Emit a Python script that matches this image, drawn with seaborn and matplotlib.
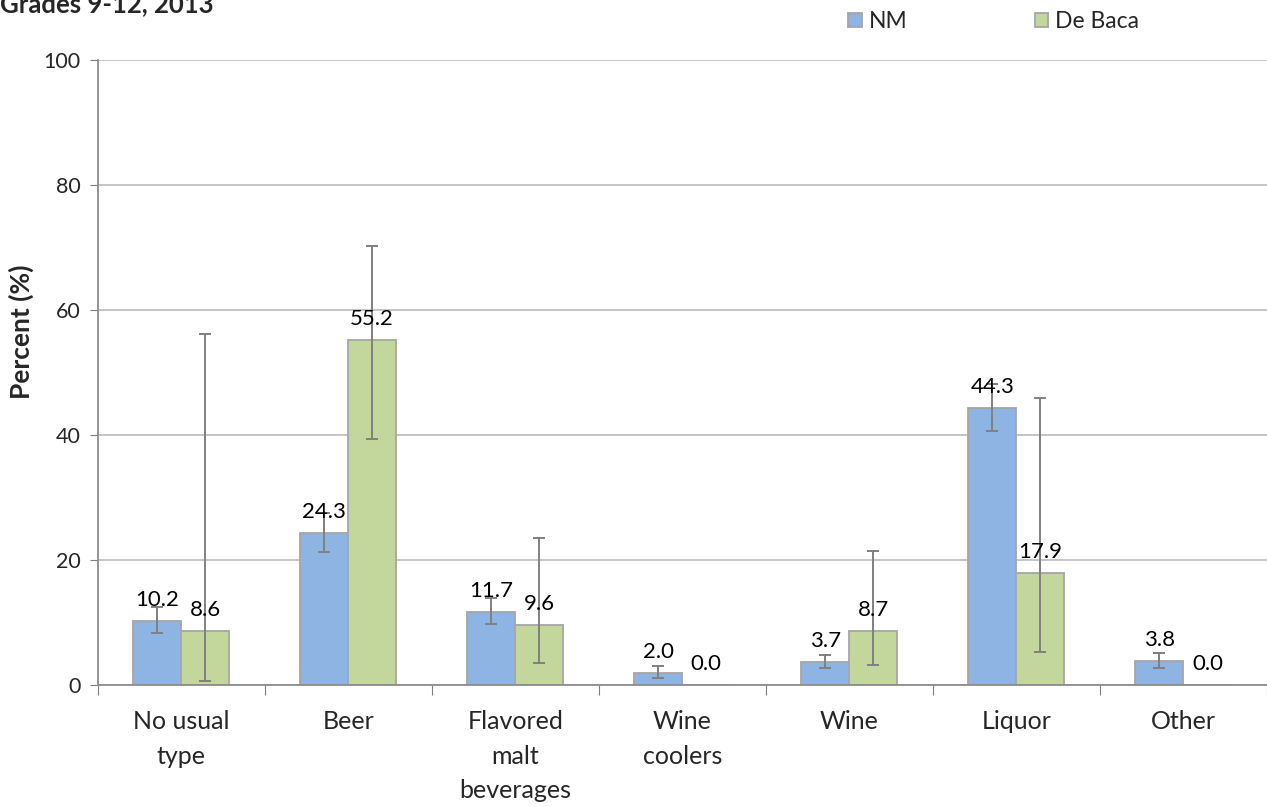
import numpy as np
import pandas as pd
import matplotlib
matplotlib.use('Agg')
import matplotlib.pyplot as plt
import seaborn as sns

# Data
categories = ['No usual\ntype', 'Beer', 'Flavored\nmalt\nbeverages', 'Wine\ncoolers',
              'Wine', 'Liquor', 'Other']
groups = ['NM', 'De Baca']
nm_values = [10.2, 24.3, 11.7, 2.0, 3.7, 44.3, 3.8]
deb_values = [8.6, 55.2, 9.6, 0.0, 8.7, 17.9, 0.0]
nm_lower = [8.4, 21.3, 9.7, 1.2, 2.8, 40.7, 2.7]
nm_upper = [12.5, 27.6, 14.0, 3.1, 4.8, 48.2, 5.2]
deb_lower = [0.7, 39.3, 3.5, 0.0, 3.2, 5.3, 0.0]
deb_upper = [56.2, 70.2, 23.5, 0.0, 21.5, 45.9, 0.0]

colors = {'NM': '#8EB4E3', 'De Baca': '#C3D69B'}

sns.set_style('white')
plt.rcParams['font.family'] = ['Lato', 'DejaVu Sans']

df = pd.DataFrame({
    'category': categories * 2,
    'group': ['NM'] * len(categories) + ['De Baca'] * len(categories),
    'value': nm_values + deb_values,
    'lower': nm_lower + deb_lower,
    'upper': nm_upper + deb_upper,
})

fig = plt.figure(figsize=(12.67, 8.07), dpi=100)
ax = fig.add_axes([0.077, 0.151, 0.923, 0.775])

sns.barplot(data=df, x='category', y='value', hue='group', hue_order=groups,
            palette=colors, width=0.575, errorbar=None, edgecolor='#A6A6A6',
            linewidth=1.3, saturation=1, ax=ax, legend=True)

# Error bars and value labels on each bar
for container, grp in zip(ax.containers, groups):
    sub = df[df['group'] == grp]
    for bar, (_, row) in zip(container, sub.iterrows()):
        xc = bar.get_x() + bar.get_width() / 2
        h = bar.get_height()
        if row['upper'] > row['lower']:
            ax.errorbar(xc, h, yerr=[[h - row['lower']], [row['upper'] - h]],
                        fmt='none', ecolor='#808080', elinewidth=1.4,
                        capsize=4, capthick=1.4, zorder=5)
        ax.annotate(f"{row['value']:.1f}", (xc, h), xytext=(0, 8),
                    textcoords='offset points', ha='center', va='bottom',
                    fontsize=16, color='black', zorder=6)

ax.set_ylim(0, 100)
ax.set_xlim(-0.5, len(categories) - 0.5)
ax.set_yticks([0, 20, 40, 60, 80, 100])
ax.tick_params(axis='y', labelsize=15.5, length=6, color='#808080', direction='out',
               left=True, pad=6)
ax.yaxis.grid(True, color='#C0C0C0', linewidth=1.3)
ax.set_axisbelow(True)

# category boundaries as ticks, labels centered
ax.set_xticks(np.arange(-0.5, len(categories), 1))
ax.set_xticklabels([])
ax.set_xticks(np.arange(len(categories)), minor=True)
ax.set_xticklabels(categories, minor=True, fontsize=18, linespacing=1.6, va='top')
ax.tick_params(axis='x', which='major', length=7, color='#808080', bottom=True,
               direction='out')
ax.tick_params(axis='x', which='minor', length=0, pad=18)

ax.set_xlabel('')
ax.set_ylabel('Percent (%)', fontsize=19, fontweight='bold')
ax.yaxis.set_label_coords(-0.054, 0.565)

for side in ['top', 'right']:
    ax.spines[side].set_visible(False)
for side in ['left', 'bottom']:
    ax.spines[side].set_color('#8C8C8C')
    ax.spines[side].set_linewidth(1.3)

ax.get_legend().remove()
handles = [plt.Rectangle((0, 0), 1, 1, facecolor=colors[g], edgecolor='#A6A6A6',
                         linewidth=1.3) for g in groups]
fig.legend(handles, groups, loc='upper left', bbox_to_anchor=(0.653, 1.012),
           ncol=2, frameon=False, fontsize=16.5, handlelength=0.6,
           handleheight=0.6, handletextpad=0.3, columnspacing=5.55)

fig.text(0.0, 1 - 12 / 807, 'Grades 9-12, 2013', fontsize=18.5, fontweight='bold',
         ha='left', va='baseline')

fig.savefig('out.png', dpi=100)
